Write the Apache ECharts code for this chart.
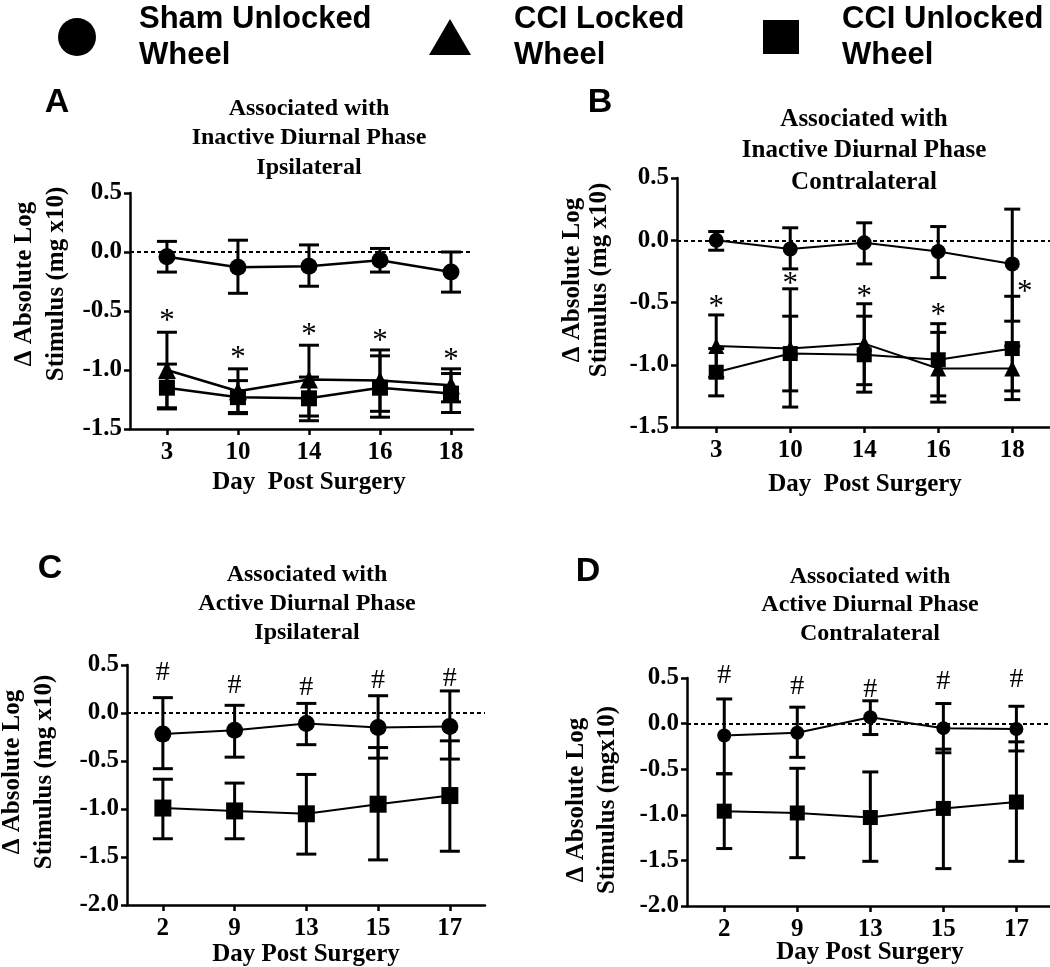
<!DOCTYPE html>
<html>
<head>
<meta charset="utf-8">
<script src="https://cdn.jsdelivr.net/npm/echarts@6/dist/echarts.min.js"></script>
<style>
html,body{margin:0;padding:0;background:#fff;}
#chart{width:1050px;height:967px;}
</style>
</head>
<body>
<div id="chart"></div>
<script>
// ---------- categories ----------
const daysInactive = ['3', '10', '14', '16', '18'];
const daysActive = ['2', '9', '13', '15', '17'];
const seriesNames = ['Sham Unlocked\nWheel', 'CCI Locked\nWheel', 'CCI Unlocked\nWheel'];

// ---------- Panel A: Inactive, Ipsilateral ----------
const aShamMean = [-0.04, -0.13, -0.12, -0.07, -0.17];
const aShamHi   = [0.09, 0.10, 0.06, 0.03, 0.00];
const aShamLo   = [-0.17, -0.35, -0.29, -0.17, -0.34];
const aLockMean = [-1.00, -1.18, -1.08, -1.09, -1.13];
const aLockHi   = [-0.68, -0.99, -0.79, -0.83, -0.99];
const aLockLo   = [-1.32, -1.37, -1.39, -1.35, -1.27];
const aUnlMean  = [-1.15, -1.23, -1.24, -1.15, -1.20];
const aUnlHi    = [-0.95, -1.09, -1.06, -0.88, -1.03];
const aUnlLo    = [-1.33, -1.36, -1.43, -1.40, -1.36];
const aStars    = [[0, -0.55], [1, -0.86], [2, -0.67], [3, -0.72], [4, -0.88]];

// ---------- Panel B: Inactive, Contralateral ----------
const bShamMean = [0.00, -0.07, -0.02, -0.09, -0.19];
const bShamHi   = [0.07, 0.10, 0.14, 0.11, 0.25];
const bShamLo   = [-0.08, -0.23, -0.19, -0.30, -0.65];
const bLockMean = [-0.85, -0.87, -0.83, -1.03, -1.03];
const bLockHi   = [-0.60, -0.39, -0.51, -0.74, -0.85];
const bLockLo   = [-1.10, -1.34, -1.16, -1.30, -1.21];
const bUnlMean  = [-1.06, -0.91, -0.92, -0.96, -0.87];
const bUnlHi    = [-0.87, -0.61, -0.61, -0.67, -0.45];
const bUnlLo    = [-1.25, -1.21, -1.22, -1.25, -1.28];
const bStars    = [[0, -0.50], [1, -0.32], [2, -0.42], [3, -0.57], [4.17, -0.38]];

// ---------- Panel C: Active, Ipsilateral ----------
const cShamMean = [-0.22, -0.18, -0.11, -0.15, -0.14];
const cShamHi   = [0.16, 0.08, 0.10, 0.18, 0.23];
const cShamLo   = [-0.58, -0.46, -0.33, -0.47, -0.48];
const cUnlMean  = [-0.99, -1.02, -1.05, -0.95, -0.86];
const cUnlHi    = [-0.69, -0.73, -0.64, -0.36, -0.29];
const cUnlLo    = [-1.31, -1.31, -1.47, -1.53, -1.44];
const cHash     = [[0, 0.42], [1, 0.29], [2, 0.26], [3, 0.34], [4, 0.36]];

// ---------- Panel D: Active, Contralateral ----------
const dShamMean = [-0.13, -0.10, 0.07, -0.05, -0.06];
const dShamHi   = [0.27, 0.18, 0.25, 0.22, 0.19];
const dShamLo   = [-0.55, -0.37, -0.12, -0.32, -0.30];
const dUnlMean  = [-0.96, -0.98, -1.03, -0.93, -0.86];
const dUnlHi    = [-0.55, -0.49, -0.53, -0.28, -0.20];
const dUnlLo    = [-1.37, -1.47, -1.51, -1.59, -1.51];
const dHash     = [[0, 0.53], [1, 0.41], [2, 0.37], [3, 0.46], [4, 0.48]];

// ---------- helpers ----------
const SERIF = '"Liberation Serif", "Times New Roman", serif';
const SANS = '"Liberation Sans", Arial, sans-serif';
const idx = [0, 1, 2, 3, 4];

function pts(arr) { return arr.map((v, i) => [i, v]); }
function errData(hi, lo) { return hi.map((h, i) => [i, h, lo[i]]); }

function errItem(capHalf, lw) {
  return function (params, api) {
    const x = api.value(0);
    const p1 = api.coord([x, api.value(1)]);
    const p2 = api.coord([x, api.value(2)]);
    const s = { stroke: '#000', lineWidth: lw };
    return {
      type: 'group',
      children: [
        { type: 'line', shape: { x1: p1[0], y1: p1[1], x2: p2[0], y2: p2[1] }, style: s },
        { type: 'line', shape: { x1: p1[0] - capHalf, y1: p1[1], x2: p1[0] + capHalf, y2: p1[1] }, style: s },
        { type: 'line', shape: { x1: p2[0] - capHalf, y1: p2[1], x2: p2[0] + capHalf, y2: p2[1] }, style: s }
      ]
    };
  };
}
function errSeries(g, hi, lo, capHalf, lw) {
  return {
    type: 'custom', xAxisIndex: g, yAxisIndex: g, z: 3, silent: true,
    renderItem: errItem(capHalf, lw),
    encode: { x: 0, y: [1, 2] },
    data: errData(hi, lo)
  };
}
function markSeries(g, data, txt, font, dy) {
  return {
    type: 'custom', xAxisIndex: g, yAxisIndex: g, z: 6, silent: true,
    renderItem: function (params, api) {
      const p = api.coord([api.value(0), api.value(1)]);
      return { type: 'text', x: p[0], y: p[1] + dy,
        style: { text: txt, font: font, fill: '#000', align: 'center', verticalAlign: 'middle' } };
    },
    encode: { x: 0, y: 1 },
    data: data
  };
}
function lineSeries(g, name, symbol, size, mean, lw, withZero) {
  const s = {
    type: 'line', name: name, xAxisIndex: g, yAxisIndex: g, z: 4,
    symbol: symbol, symbolSize: size, showAllSymbol: true,
    lineStyle: { color: '#000', width: lw },
    itemStyle: { color: '#000', borderWidth: 0 },
    data: pts(mean)
  };
  if (withZero) {
    s.markLine = {
      silent: true, symbol: 'none', label: { show: false },
      lineStyle: { type: [4, 3], color: '#000', width: 2 },
      data: [{ yAxis: 0 }]
    };
  }
  return s;
}

const grids = [
  { left: 130, top: 193, width: 343, height: 236 },
  { left: 677, top: 178, width: 373, height: 249 },
  { left: 127, top: 665, width: 358, height: 240 },
  { left: 687, top: 678, width: 363, height: 228 }
];
const xRanges = [[-0.52, 4.31], [-0.53, 4.51], [-0.50, 4.49], [-0.51, 4.46]];
const xLabels = [daysInactive, daysInactive, daysActive, daysActive];
const yRanges = [[-1.5, 0.5], [-1.5, 0.5], [-2.0, 0.5], [-2.0, 0.5]];

const axisLine = { show: true, onZero: false, lineStyle: { color: '#000', width: 2.5 } };
const axisTick = { show: true, inside: false, length: 6, lineStyle: { color: '#000', width: 2.5 } };

const xAxes = grids.map((g, i) => ({
  type: 'value', gridIndex: i, min: xRanges[i][0], max: xRanges[i][1],
  axisLine: axisLine,
  axisTick: Object.assign({}, axisTick, { customValues: idx }),
  axisLabel: {
    customValues: idx, margin: 11,
    formatter: v => xLabels[i][Math.round(v)],
    color: '#000', fontFamily: SERIF, fontWeight: 'bold', fontSize: 25
  },
  splitLine: { show: false }
}));
const yAxes = grids.map((g, i) => ({
  type: 'value', gridIndex: i, min: yRanges[i][0], max: yRanges[i][1], interval: 0.5,
  axisLine: axisLine, axisTick: axisTick,
  axisLabel: {
    margin: 8, formatter: v => v.toFixed(1),
    color: '#000', fontFamily: SERIF, fontWeight: 'bold', fontSize: 25
  },
  splitLine: { show: false }
}));

const series = [
  // Panel A
  errSeries(0, aShamHi, aShamLo, 10, 3),
  errSeries(0, aLockHi, aLockLo, 10, 3),
  errSeries(0, aUnlHi, aUnlLo, 10, 3),
  lineSeries(0, seriesNames[0], 'circle', 17, aShamMean, 2.5, true),
  lineSeries(0, seriesNames[1], 'triangle', 18, aLockMean, 2.5, false),
  lineSeries(0, seriesNames[2], 'rect', 16, aUnlMean, 2.5, false),
  markSeries(0, aStars, '*', '31px ' + SERIF, 5),
  // Panel B
  errSeries(1, bShamHi, bShamLo, 8, 3),
  errSeries(1, bLockHi, bLockLo, 8, 3),
  errSeries(1, bUnlHi, bUnlLo, 8, 3),
  lineSeries(1, seriesNames[0], 'circle', 15, bShamMean, 2, true),
  lineSeries(1, seriesNames[1], 'triangle', 16, bLockMean, 2, false),
  lineSeries(1, seriesNames[2], 'rect', 15, bUnlMean, 2, false),
  markSeries(1, bStars, '*', '31px ' + SERIF, 5),
  // Panel C
  errSeries(2, cShamHi, cShamLo, 10, 3),
  errSeries(2, cUnlHi, cUnlLo, 10, 3),
  lineSeries(2, seriesNames[0], 'circle', 17, cShamMean, 2, true),
  lineSeries(2, seriesNames[2], 'rect', 17, cUnlMean, 2, false),
  markSeries(2, cHash, '#', '28px ' + SERIF, 0),
  // Panel D
  errSeries(3, dShamHi, dShamLo, 8, 3),
  errSeries(3, dUnlHi, dUnlLo, 8, 3),
  lineSeries(3, seriesNames[0], 'circle', 14, dShamMean, 2, true),
  lineSeries(3, seriesNames[2], 'rect', 15, dUnlMean, 2, false),
  markSeries(3, dHash, '#', '28px ' + SERIF, 0)
];

function legendFor(name, icon, left, w, h) {
  return {
    data: [{ name: name, icon: icon }], left: left, top: -4, orient: 'horizontal',
    selectedMode: false, itemWidth: w, itemHeight: h,
    textStyle: { color: '#000', fontFamily: SANS, fontWeight: 'bold', fontSize: 31, lineHeight: 36,
      padding: [0, 0, 0, 38] }
  };
}

function txt(x, y, text, font, lh) {
  return { type: 'text', x: x, y: y, silent: true,
    style: { text: text, font: font, fill: '#000', align: 'center', verticalAlign: 'middle', lineHeight: lh } };
}
function vtxt(x, y, text, font, lh) {
  return { type: 'text', x: x, y: y, rotation: Math.PI / 2, silent: true,
    style: { text: text, font: font, fill: '#000', align: 'center', verticalAlign: 'middle', lineHeight: lh } };
}
const TF = 'bold 24px ' + SERIF;
const graphics = [
  // panel letters
  txt(57, 103, 'A', 'bold 34px ' + SANS, 40),
  txt(600, 103, 'B', 'bold 34px ' + SANS, 40),
  txt(50, 569, 'C', 'bold 34px ' + SANS, 40),
  txt(588, 572, 'D', 'bold 34px ' + SANS, 40),
  // titles
  txt(309, 138, 'Associated with\nInactive Diurnal Phase\nIpsilateral', TF, 29.5),
  txt(864, 151, 'Associated with\nInactive Diurnal Phase\nContralateral', 'bold 25px ' + SERIF, 31.5),
  txt(307, 604, 'Associated with\nActive Diurnal Phase\nIpsilateral', TF, 29),
  txt(870, 605, 'Associated with\nActive Diurnal Phase\nContralateral', TF, 28.5),
  // y names
  vtxt(41, 284, '\u0394 Absolute Log\nStimulus (mg x10)', 'bold 25px ' + SERIF, 32),
  vtxt(586, 280, '\u0394 Absolute Log\nStimulus (mg x10)', 'bold 25px ' + SERIF, 27),
  vtxt(29, 772, '\u0394 Absolute Log\nStimulus (mg x10)', 'bold 25px ' + SERIF, 32),
  vtxt(592, 800, '\u0394 Absolute Log\nStimulus (mgx10)', 'bold 25px ' + SERIF, 31),
  // x names
  txt(309, 483, 'Day  Post Surgery', 'bold 25px ' + SERIF, 30),
  txt(865, 485, 'Day  Post Surgery', 'bold 25px ' + SERIF, 30),
  txt(306, 955, 'Day Post Surgery', 'bold 25px ' + SERIF, 30),
  txt(870, 953, 'Day Post Surgery', 'bold 25px ' + SERIF, 30)
];

const chart = echarts.init(document.getElementById('chart'), null, { renderer: 'canvas' });
chart.setOption({
  animation: false,
  backgroundColor: '#fff',
  grid: grids.map(g => Object.assign({ containLabel: false, outerBoundsMode: 'none' }, g)),
  xAxis: xAxes,
  yAxis: yAxes,
  legend: [
    legendFor(seriesNames[0], 'circle', 53, 38, 38),
    legendFor(seriesNames[1], 'triangle', 424, 42, 36),
    legendFor(seriesNames[2], 'rect', 758, 36, 34)
  ],
  graphic: graphics,
  series: series
});
</script>
</body>
</html>
